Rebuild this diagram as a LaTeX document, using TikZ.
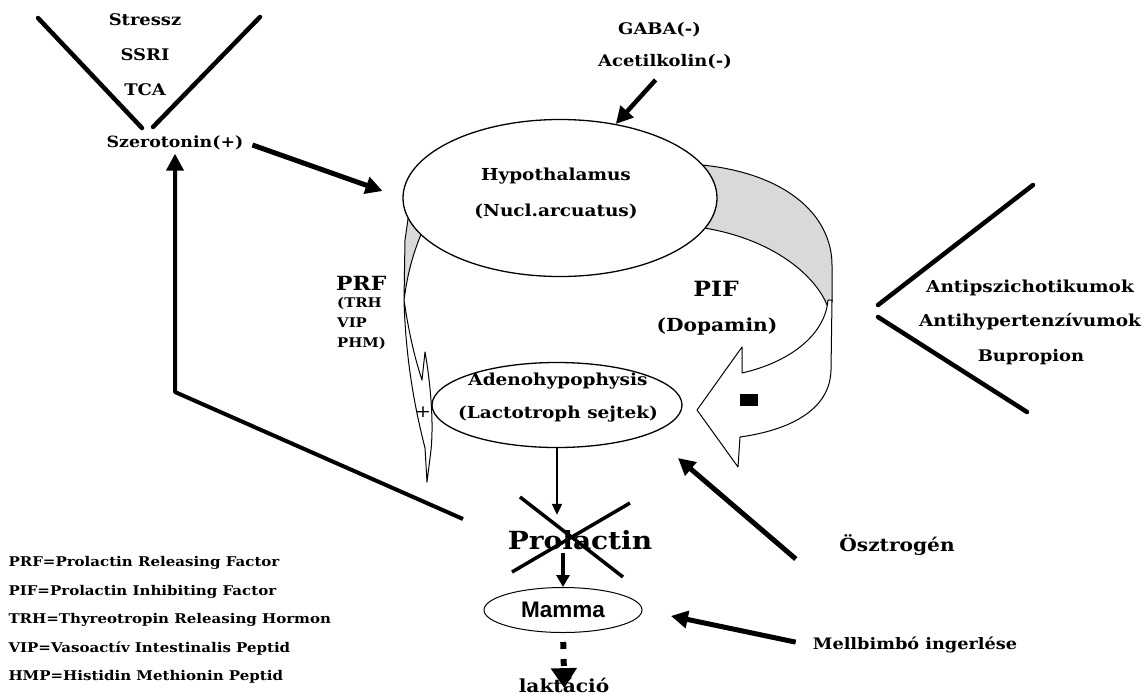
\documentclass[tikz,border=0pt]{standalone}
\usepackage{fontspec}
\setmainfont{DejaVu Serif}[FakeStretch=1.12]
\setsansfont{Liberation Sans}
\usetikzlibrary{arrows.meta,shapes.geometric}

\begin{document}
\begin{tikzpicture}[x=1pt,y=-1pt,line join=round,
  lbl/.style={font=\bfseries\fontsize{16}{18}\selectfont},
  bar/.style={line width=4.5pt,line cap=round},
  arr/.style={line width=5pt,-{Triangle[length=17pt,width=17pt]}},
  organ/.style={draw,ellipse,fill=white,line width=1.3pt,inner sep=0pt}]
\useasboundingbox (0,0) rectangle (1147,699);

% PIF band, back side then front side
\filldraw[fill=gray!30,line width=1pt] (690,164) .. controls (785,170) and (832,215) .. (832,265) -- (832,302) -- (827,305) .. controls (815,275) and (770,235) .. (690,226) -- cycle;
\filldraw[fill=white,line width=1pt] (832,300) -- (831,370) .. controls (830,410) and (790,430) .. (740,437) -- (738,467) -- (697,410) -- (742,347) -- (742,373) .. controls (790,362) and (825,335) .. (828,300) -- cycle;
% PRF band
\filldraw[fill=gray!30,line width=1pt] (410,205) -- (405,240) -- (404,300) .. controls (408,270) and (414,250) .. (425,225) -- cycle;
\filldraw[fill=white,line width=1pt] (404,300) .. controls (406,370) and (418,420) .. (425,448) -- (427,482) -- (431,450) .. controls (434,420) and (430,380) .. (425,352) -- (422,380) .. controls (412,350) and (407,320) .. (404,300) -- cycle;

\node[organ,minimum width=314,minimum height=157] (hyp) at (560,198) {};
\node[font=\bfseries\fontsize{16.5}{36}\selectfont,align=center] (hyptxt) at (556,194) {Hypothalamus\\(Nucl.arcuatus)};
\node[organ,minimum width=250,minimum height=85] (adeno) at (557,405) {};
\node[font=\bfseries\fontsize{16.5}{33}\selectfont,align=center] (adenotxt) at (558,398) {Adenohypophysis\\(Lactotroph sejtek)};
\node[organ,minimum width=158,minimum height=45,line width=1pt,font=\sffamily\bfseries\fontsize{22.5}{24}\selectfont] (mamma) at (563,610) {Mamma};
\node[font=\bfseries\fontsize{25}{28}\selectfont] (prl) at (580,540) {Prolactin};
\node[font=\bfseries\fontsize{18}{20}\selectfont] (lakt) at (564,685) {laktáció};

\node[lbl] (stressz) at (145,20) {Stressz};
\node[lbl] (ssri) at (145,55) {SSRI};
\node[lbl] (tca) at (145,90) {TCA};
\node[lbl,font=\bfseries\fontsize{15.5}{18}\selectfont] (sero) at (175,143) {Szerotonin(+)};
\node[lbl,anchor=west,inner sep=0pt] (gaba) at (618,30) {GABA(-)};
\node[lbl,anchor=west,inner sep=0pt] (ach) at (598,62) {Acetilkolin(-)};
\node[lbl,font=\bfseries\fontsize{18}{20}\selectfont] (ostr) at (897,545) {Ösztrogén};
\node[lbl,font=\bfseries\fontsize{15.8}{18}\selectfont] (mell) at (915,645) {Mellbimbó ingerlése};
\node[lbl,font=\bfseries\fontsize{16.5}{18}\selectfont] (antipsy) at (1030,288) {Antipszichotikumok};
\node[lbl,font=\bfseries\fontsize{16.5}{18}\selectfont] (antihyp) at (1030,322) {Antihypertenzívumok};
\node[lbl] (bupr) at (1031,357) {Bupropion};
\node[font=\bfseries\fontsize{21}{22}\selectfont] (pif) at (716,289) {PIF};
\node[font=\bfseries\fontsize{18}{20}\selectfont] (dopa) at (717,327) {(Dopamin)};
\node[font=\bfseries\fontsize{19.5}{22}\selectfont,anchor=west,inner sep=0pt] (prf) at (336,283) {PRF};
\node[font=\bfseries\fontsize{13.3}{20}\selectfont,anchor=north west,align=left,inner sep=0pt] (prfsub) at (337,297) {(TRH\\VIP\\PHM)};
\node[font=\fontsize{17}{18}\selectfont] (plus) at (423,412) {+};
\node[font=\bfseries\fontsize{13.4}{28.5}\selectfont,anchor=west,align=left] (key) at (5,620) {PRF=Prolactin Releasing Factor\\PIF=Prolactin Inhibiting Factor\\TRH=Thyreotropin Releasing Hormon\\VIP=Vasoactív Intestinalis Peptid\\HMP=Histidin Methionin Peptid};

% minus sign of PIF
\fill (740,394) rectangle (758,406);

% cross over Prolactin
\draw[line width=3.5pt] (520,497) -- (623,577) (630,503) -- (512,572);

% the two V shapes
\draw[bar] (38,18) -- (142,128) (153,127) -- (260,17);
\draw[bar] (1033,185) -- (878,305) (878,317) -- (1027,412);

\coordinate (fbstart) at (463,519);
\coordinate (fbbend) at (177,392);
\coordinate (ostrtip) at (678,458);

\draw[arr,shorten <=6pt,shorten >=21pt] (sero.east) -- (hyp.west);
\draw[arr,line width=4.5pt,shorten <=14pt] (ach.south) -- (hyp.53);
\draw[arr,line width=4pt] (fbstart) -- (sero.south |- fbbend) -- (sero.south);
\draw[arr] ([xshift=-40pt]ostr.south west) -- (ostrtip);
\draw[arr,shorten <=14pt,shorten >=29pt] (mell.west) -- (mamma.east);
\draw[line width=2pt,-{Triangle[length=11pt,width=10pt]},shorten >=12pt] (adeno.south) -- (adeno.south |- prl.north);
\draw[line width=4pt,-{Triangle[length=12pt,width=13pt]}] (prl.south -| mamma.north) -- (mamma.north);
\draw[line width=6pt,dash pattern=on 7pt off 10pt,shorten <=9pt,shorten >=-14pt,-{Triangle[length=20pt,width=25pt]}] (mamma.south) -- (lakt.north);
\end{tikzpicture}
\end{document}
